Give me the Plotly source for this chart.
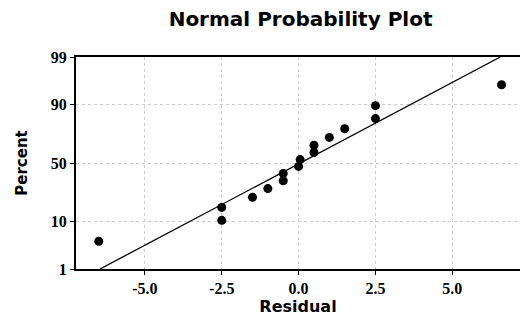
import plotly.graph_objects as go
from statistics import NormalDist

# Data
residuals = [-6.5, -2.5, -2.5, -1.5, -1.0, -0.5, -0.5, 0.0, 0.05, 0.5, 0.5, 1.0, 1.5, 2.5, 2.5, 6.6]
percents = [4.3, 10.4, 16.5, 22.6, 28.7, 34.8, 40.9, 47.0, 53.0, 59.1, 65.2, 71.3, 77.4, 83.5, 89.6, 95.7]
fit_residuals = [-6.46, 6.56]
fit_percents = [1, 99]
y_tick_labels = ["1", "10", "50", "90", "99"]
y_tick_percents = [1, 10, 50, 90, 99]
x_tick_values = [-5.0, -2.5, 0.0, 2.5, 5.0]
x_tick_labels = ["-5.0", "-2.5", "0.0", "2.5", "5.0"]

nd = NormalDist()
def z(p):
    return nd.inv_cdf(p / 100.0)

fig = go.Figure()
fig.add_trace(go.Scatter(
    x=fit_residuals, y=[z(p) for p in fit_percents], mode="lines",
    line=dict(color="black", width=1.3), showlegend=False, hoverinfo="skip"))
fig.add_trace(go.Scatter(
    x=residuals, y=[z(p) for p in percents], mode="markers",
    marker=dict(color="black", size=9), showlegend=False))

fig.update_layout(
    width=520, height=320,
    margin=dict(l=76, r=0, t=57, b=51),
    paper_bgcolor="white", plot_bgcolor="white",
    title=dict(text="<b>Normal Probability Plot</b>", x=0.578, xanchor="center",
               y=0.94, yanchor="middle",
               font=dict(family="DejaVu Sans", size=20, color="black")),
    xaxis=dict(range=[-7.24, 7.2], tickvals=x_tick_values, ticktext=x_tick_labels,
               showline=True, linecolor="black", linewidth=2, mirror=True,
               ticks="outside", ticklen=4, tickcolor="black",
               showgrid=True, gridcolor="#cccccc", griddash="dot", gridwidth=1,
               zeroline=False,
               tickfont=dict(family="Liberation Serif", size=16, color="black", weight="bold"),
               title=dict(text="<b>Residual</b>", standoff=1,
                          font=dict(family="DejaVu Sans", size=16, color="black"))),
    yaxis=dict(range=[z(1), z(99)], tickvals=[z(p) for p in y_tick_percents],
               ticktext=y_tick_labels,
               showline=True, linecolor="black", linewidth=2,
               ticks="outside", ticklen=4, tickcolor="black",
               showgrid=True, gridcolor="#cccccc", griddash="dot", gridwidth=1,
               zeroline=False,
               tickfont=dict(family="Liberation Serif", size=16, color="black", weight="bold"),
               title=dict(text="<b>Percent</b>", standoff=20,
                          font=dict(family="DejaVu Sans", size=15, color="black"))),
)

fig.write_html("out.html")
